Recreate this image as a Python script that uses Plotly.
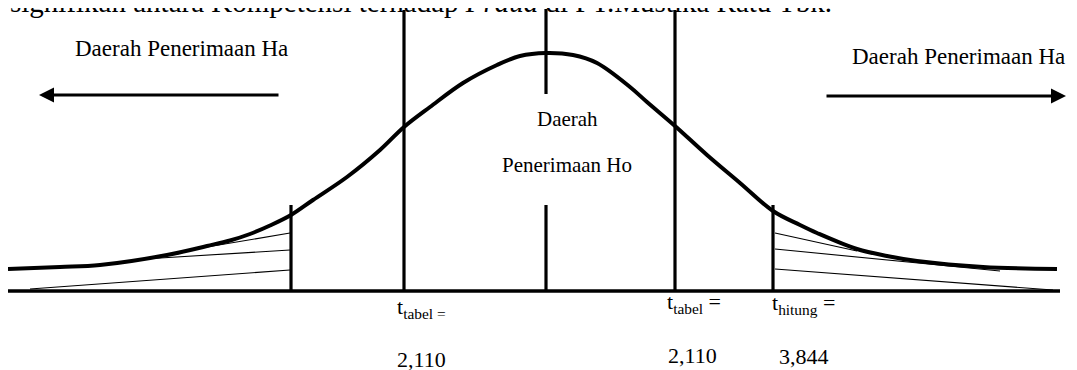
import plotly.graph_objects as go

# bell curve (x position, height above the base line)
curve_x = [8, 60, 100, 167, 207, 230, 250, 270, 291, 313, 347, 380, 404, 430, 463, 497, 520, 546,
           573, 597, 630, 647, 675, 707, 740, 773, 800, 817, 857, 887, 917, 983, 1057]
curve_y = [22, 24, 26, 36, 45, 50.5, 57, 65.5, 76, 91, 114, 141, 164, 184, 208, 226, 235, 238,
           236, 228, 204, 189, 165, 136, 108, 80, 66, 58, 42, 35, 30, 24, 22]

baseline_x = [8, 1060]

# vertical marker lines
seg_x = [291, 404, 546, 546, 675, 773]
seg_y0 = [0, 0, 197, 0, 0, 0]
seg_y1 = [86, 281, 282, 86, 281, 86]

# thin hatching in the tails
hatch_x0 = [290, 290, 290, 775, 775, 775]
hatch_y0 = [58, 41, 21, 58, 42, 22]
hatch_x1 = [207, 144, 30, 857, 1000, 1053]
hatch_y1 = [44, 32, 2, 40, 20, 1]

# arrows: start x, tip x, height
arrow_start = [280, 825]
arrow_tip = [39, 1066]
arrow_y = [196, 195]

title_text = "signifikan antara Kompetensi terhadap <i>Fraud</i> di PT.Mustika Ratu Tbk."
side_labels = ["Daerah Penerimaan Ha", "Daerah Penerimaan Ha"]
side_x = [181, 958]
side_y = [243, 235]
center_labels = ["Daerah", "Penerimaan Ho"]
center_y = [172, 126]
t_labels = ["t<sub>tabel =</sub>", "t<sub>tabel</sub> =", "t<sub>hitung</sub> ="]
t_x = [395, 665, 770]
t_y = [-17, -12, -13]
value_labels = ["2,110", "2,110", "3,844"]
value_x = [395, 666, 777]
value_y = [-68, -64.5, -65.5]

FONT = "Liberation Serif, Times New Roman, serif"


def build_figure():
    fig = go.Figure()

    fig.add_trace(go.Scatter(x=baseline_x, y=[0, 0], mode="lines",
                             line=dict(color="black", width=3.5)))

    for i in range(len(hatch_x0)):
        fig.add_trace(go.Scatter(x=[hatch_x0[i], hatch_x1[i]], y=[hatch_y0[i], hatch_y1[i]],
                                 mode="lines", line=dict(color="black", width=1.1)))

    for i in range(len(seg_x)):
        fig.add_trace(go.Scatter(x=[seg_x[i], seg_x[i]], y=[seg_y0[i], seg_y1[i]],
                                 mode="lines", line=dict(color="black", width=3.2)))

    fig.add_trace(go.Scatter(x=curve_x, y=curve_y, mode="lines",
                             line=dict(color="black", width=4, shape="spline", smoothing=1.0)))

    for i in range(len(arrow_tip)):
        fig.add_annotation(x=arrow_tip[i], y=arrow_y[i], ax=arrow_start[i], ay=arrow_y[i],
                           xref="x", yref="y", axref="x", ayref="y", text="",
                           showarrow=True, arrowhead=2, arrowsize=1, arrowwidth=3,
                           arrowcolor="black", standoff=0, startstandoff=0)

    # the sentence above the figure is cut by the top edge (paper ref so it is not hidden)
    fig.add_annotation(x=8, y=1.017, xref="x", yref="paper", text=title_text, showarrow=False,
                       xanchor="left", yanchor="middle", font=dict(size=29, color="black", family=FONT))

    for i in range(len(side_labels)):
        fig.add_annotation(x=side_x[i], y=side_y[i], text=side_labels[i], showarrow=False,
                           font=dict(size=23, color="black", family=FONT))

    for i in range(len(center_labels)):
        fig.add_annotation(x=567, y=center_y[i], text=center_labels[i], showarrow=False,
                           font=dict(size=21, color="black", family=FONT))

    for i in range(len(t_labels)):
        fig.add_annotation(x=t_x[i], y=t_y[i], text=t_labels[i], showarrow=False,
                           xanchor="left", font=dict(size=22, color="black", family=FONT))
        fig.add_annotation(x=value_x[i], y=value_y[i], text=value_labels[i], showarrow=False,
                           xanchor="left", font=dict(size=22, color="black", family=FONT))

    # the page keeps an 8px body margin, so the figure is 8px smaller and the ranges shifted
    fig.update_layout(width=1069, height=362, margin=dict(l=0, r=0, t=0, b=0),
                      paper_bgcolor="white", plot_bgcolor="white", showlegend=False,
                      xaxis=dict(range=[8, 1077], visible=False, fixedrange=True),
                      yaxis=dict(range=[-79, 283], visible=False, fixedrange=True))
    return fig


def main():
    fig = build_figure()
    fig.write_html("out.html")


if __name__ == "__main__":
    main()
